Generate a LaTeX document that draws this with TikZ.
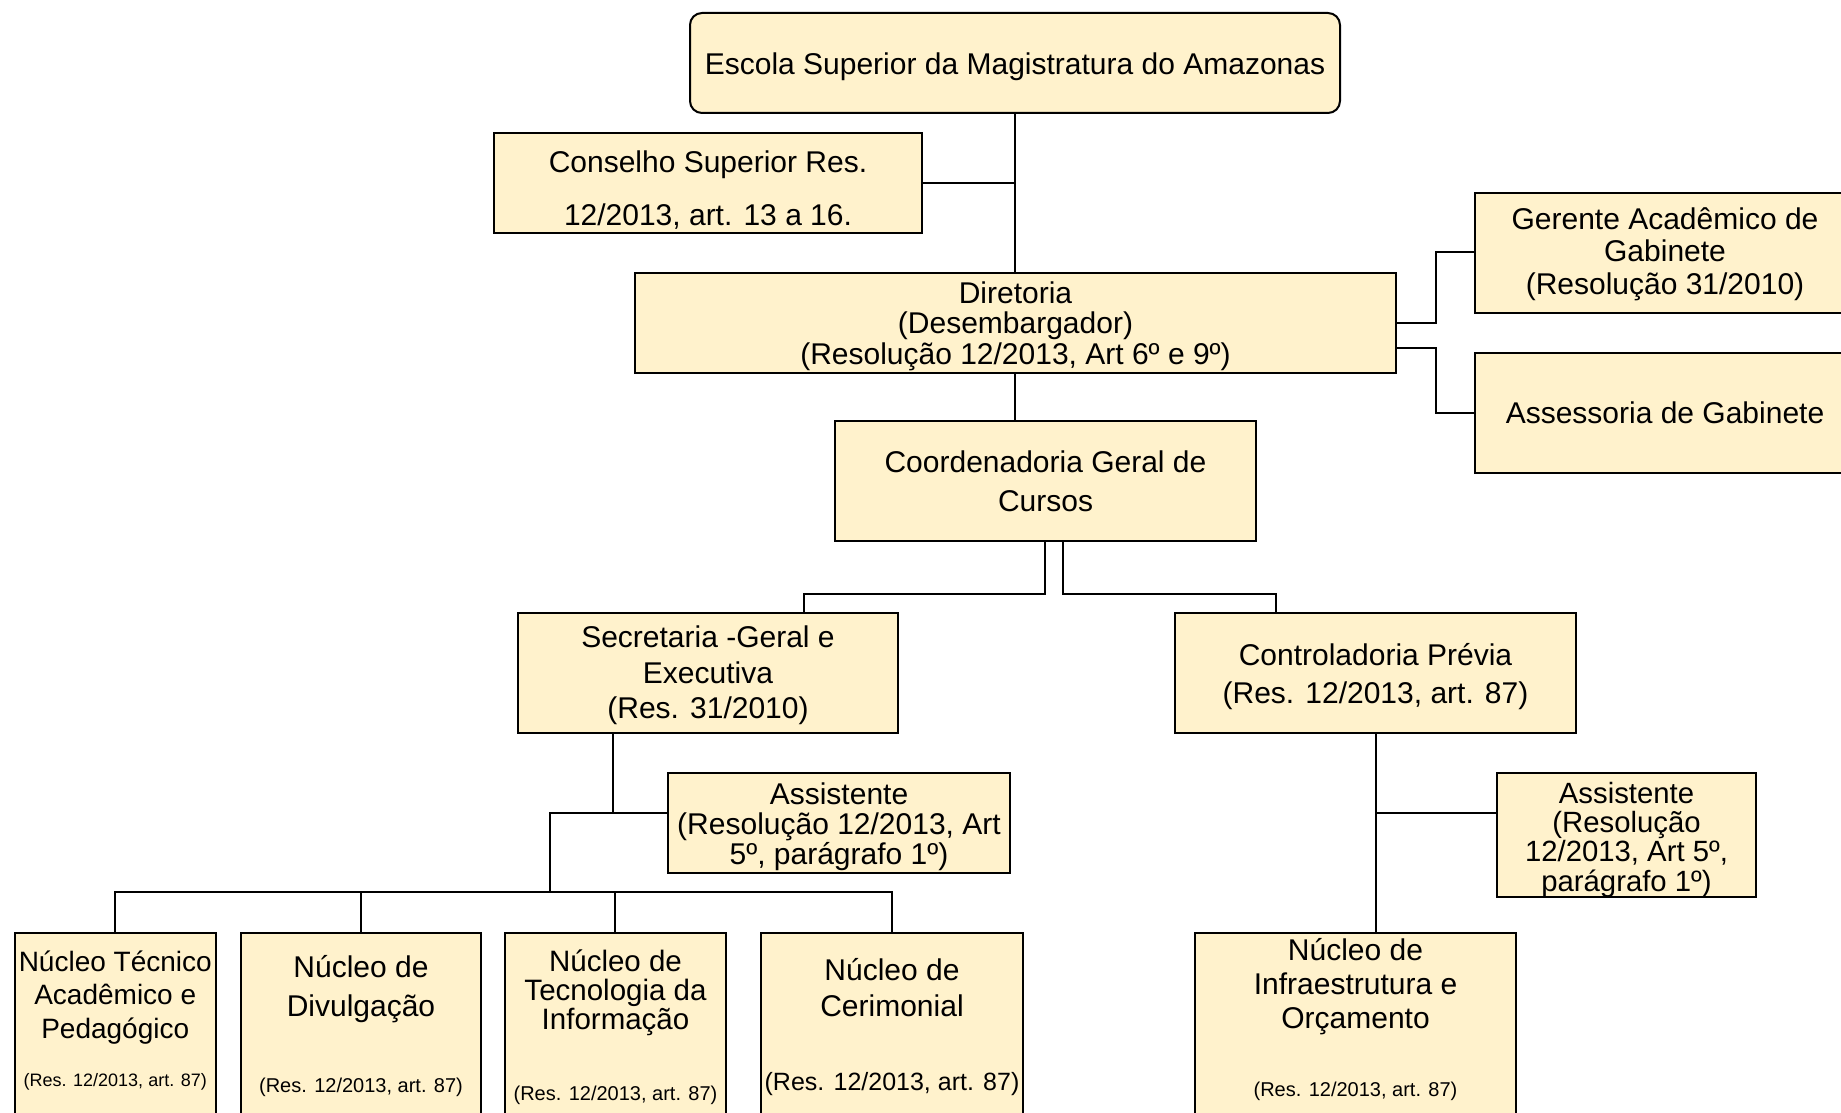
\documentclass[tikz,border=0pt]{standalone}
\usepackage{fontspec}
\setmainfont{Liberation Sans}
\usetikzlibrary{calc}
\definecolor{boxfill}{HTML}{FFF2CC}
\newcommand{\fsz}[2]{\fontsize{#1}{#2}\selectfont}
\tikzset{
  box/.style={draw=black, line width=2pt, fill=boxfill, inner sep=0pt, anchor=center},
  conn/.style={draw=black, line width=2pt},
  txt/.style={inner sep=0pt, align=center, anchor=center}
}
\begin{document}
\begin{tikzpicture}[x=1pt,y=-1pt]
\useasboundingbox (0,0) rectangle (1841,1113);
\clip (0,0) rectangle (1841,1113);
\fill[white] (0,0) rectangle (1841,1113);

% boxes
\node[box, rounded corners=12pt, minimum width=650pt, minimum height=100pt] (esc) at (1015,63) {};
\node[box, minimum width=428pt, minimum height=100pt] (cons) at (708,183) {};
\node[box, minimum width=761pt, minimum height=100pt] (dir) at (1015.5,323) {};
\node[box, minimum width=380pt, minimum height=120pt] (ger) at (1665,253) {};
\node[box, minimum width=380pt, minimum height=120pt] (ass) at (1665,413) {};
\node[box, minimum width=421pt, minimum height=120pt] (coo) at (1045.5,481) {};
\node[box, minimum width=380pt, minimum height=120pt] (sec) at (708,673) {};
\node[box, minimum width=401pt, minimum height=120pt] (ctl) at (1375.5,673) {};
\node[box, minimum width=342pt, minimum height=100pt] (as1) at (839,823) {};
\node[box, minimum width=259pt, minimum height=124pt] (as2) at (1626.5,835) {};
\node[box, minimum width=201.5pt, minimum height=197pt] (n1) at (115.25,1031.5) {};
\node[box, minimum width=240pt, minimum height=197pt] (n2) at (361,1031.5) {};
\node[box, minimum width=220.6pt, minimum height=197pt] (n3) at (615.3,1031.5) {};
\node[box, minimum width=262.3pt, minimum height=197pt] (n4) at (891.85,1031.5) {};
\node[box, minimum width=321pt, minimum height=197pt] (n5) at (1355.5,1031.5) {};

% texts
\node[txt, font=\fsz{30}{36}] (esct) at (1015,66.5) {Escola Superior da Magistratura do Amazonas};
\node[txt, font=\fsz{30}{53}] (const) at (708,190) {Conselho Superior Res.\\12/2013, art. 13 a 16.};
\node[txt, font=\fsz{30}{30.5}] (dirt) at (1015.5,326.2) {Diretoria\\(Desembargador)\\(Resolução 12/2013, Art 6º e 9º)};
\node[txt, font=\fsz{30}{32.5}] (gert) at (1665,254.2) {Gerente Acadêmico de\\Gabinete\\(Resolução 31/2010)};
\node[txt, font=\fsz{30}{36}] (asst) at (1665,413) {Assessoria de Gabinete};
\node[txt, font=\fsz{30}{39}] (coot) at (1045.5,481.6) {Coordenadoria Geral de\\Cursos};
\node[txt, font=\fsz{30}{35.5}] (sect) at (708,675.5) {Secretaria -Geral e\\Executiva\\(Res. 31/2010)};
\node[txt, font=\fsz{30}{37.5}] (ctlt) at (1375.5,676.5) {Controladoria Prévia\\(Res. 12/2013, art. 87)};
\node[txt, font=\fsz{30}{30}] (as1t) at (839,826.5) {Assistente\\(Resolução 12/2013, Art\\5º, parágrafo 1º)};
\node[txt, font=\fsz{29.3}{29.4}] (as2t) at (1626.5,839.7) {Assistente\\(Resolução\\12/2013, Art 5º,\\parágrafo 1º)};

\node[txt, font=\fsz{28}{33.5}] (n1t) at (115.25,997.3) {Núcleo Técnico\\Acadêmico e\\Pedagógico};
\node[txt, font=\fsz{18}{20}] (n1s) at (115.25,1082.3) {(Res. 12/2013, art. 87)};
\node[txt, font=\fsz{30}{38.5}] (n2t) at (361,989) {Núcleo de\\Divulgação};
\node[txt, font=\fsz{20}{22}] (n2s) at (361,1087.3) {(Res. 12/2013, art. 87)};
\node[txt, font=\fsz{29.5}{29}] (n3t) at (615.5,992.5) {Núcleo de\\Tecnologia da\\Informação};
\node[txt, font=\fsz{20}{22}] (n3s) at (615.5,1095.3) {(Res. 12/2013, art. 87)};
\node[txt, font=\fsz{30}{36.4}] (n4t) at (892,987.6) {Núcleo de\\Cerimonial};
\node[txt, font=\fsz{25}{27}] (n4s) at (892,1084.3) {(Res. 12/2013, art. 87)};
\node[txt, font=\fsz{30}{34}] (n5t) at (1355.5,986.3) {Núcleo de\\Infraestrutura e\\Orçamento};
\node[txt, font=\fsz{20}{22}] (n5s) at (1355.5,1091.2) {(Res. 12/2013, art. 87)};

% connectors
\draw[conn] (esc.south) -- (esc.south |- dir.north);
\draw[conn] (cons.east) -- (cons.east -| esc.south);
\draw[conn] (dir.east) -- ++(39,0) |- ($(ger.west)+(0,-1)$);
\draw[conn] ($(dir.east)+(0,25)$) -- ++(39,0) |- (ass.west);
\draw[conn] (esc.south |- dir.south) -- (esc.south |- coo.north);
\draw[conn] ($(coo.south)+(-0.5,0)$) -- ++(0,52) -| ($(sec.north)+(95.6,0)$);
\draw[conn] ($(coo.south)+(17.5,-2)$) -- ++(0,54) -| ($(ctl.north)+(-100,0)$);
\draw[conn] ($(sec.south)+(-95,0)$) -- ++(0,80);
\coordinate (j1) at (550,893);
\draw[conn] ($(as1.west)+(0,-10)$) -| (j1);
\draw[conn] (n1.north) -- ++(0,-40) -| (n4.north);
\draw[conn] (n2.north) -- ++(0,-40);
\draw[conn] (n3.north) -- ++(0,-40);
\draw[conn] (ctl.south) -- (ctl.south |- n5.north);
\coordinate (j2) at ($(ctl.south)+(0,79)$);
\draw[conn] (j2) -- (j2 -| as2.west);
\end{tikzpicture}
\end{document}
